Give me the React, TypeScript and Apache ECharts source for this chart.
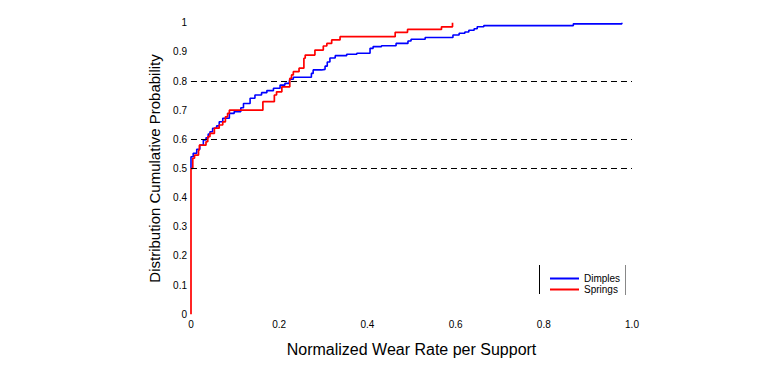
import React, { useEffect, useRef } from "react";
import * as echarts from "echarts";

const dimplesX = [0, 0, 0.005, 0.013, 0.02, 0.028, 0.034, 0.039, 0.043, 0.049, 0.058, 0.064, 0.072, 0.087, 0.098, 0.113, 0.119, 0.134, 0.145, 0.16, 0.172, 0.187, 0.202, 0.213, 0.223, 0.224, 0.232, 0.273, 0.277, 0.296, 0.304, 0.309, 0.315, 0.327, 0.353, 0.376, 0.406, 0.413, 0.432, 0.465, 0.492, 0.499, 0.531, 0.594, 0.608, 0.621, 0.63, 0.642, 0.649, 0.664, 0.867, 0.977, 0.977];
const dimplesP = [0.5, 0.54, 0.552, 0.566, 0.58, 0.598, 0.605, 0.618, 0.626, 0.638, 0.646, 0.66, 0.672, 0.689, 0.695, 0.708, 0.723, 0.741, 0.752, 0.76, 0.767, 0.775, 0.786, 0.792, 0.798, 0.806, 0.813, 0.826, 0.838, 0.84, 0.851, 0.865, 0.879, 0.887, 0.892, 0.895, 0.912, 0.918, 0.921, 0.929, 0.937, 0.943, 0.949, 0.958, 0.964, 0.968, 0.974, 0.979, 0.986, 0.99, 0.996, 0.996, 1.0];

const springsX = [0, 0, 0.004, 0.004, 0.008, 0.017, 0.019, 0.034, 0.038, 0.043, 0.053, 0.064, 0.072, 0.078, 0.083, 0.087, 0.163, 0.189, 0.194, 0.206, 0.224, 0.228, 0.232, 0.245, 0.256, 0.259, 0.281, 0.3, 0.308, 0.319, 0.338, 0.463, 0.491, 0.568, 0.593, 0.593];
const springsP = [0, 0.5, 0.506, 0.535, 0.546, 0.563, 0.58, 0.592, 0.609, 0.62, 0.638, 0.649, 0.66, 0.677, 0.689, 0.7, 0.729, 0.752, 0.763, 0.78, 0.809, 0.821, 0.832, 0.844, 0.878, 0.889, 0.906, 0.92, 0.929, 0.941, 0.952, 0.967, 0.977, 0.986, 0.99, 1.0];

const refLevels = [0.5, 0.6, 0.8];

export default function App() {
  const ref = useRef<HTMLDivElement>(null);
  useEffect(() => {
    if (!ref.current) return;
    const chart = echarts.init(ref.current, null, { renderer: "svg" });
    const font = "Arial, 'Liberation Sans', sans-serif";
    chart.setOption({
      animation: false,
      backgroundColor: "#ffffff",
      textStyle: { fontFamily: font },
      grid: { left: 191, right: 137, top: 22.7, bottom: 50.8, containLabel: false },
      xAxis: {
        type: "value",
        min: 0,
        max: 1,
        interval: 0.2,
        name: "Normalized Wear Rate per Support",
        nameLocation: "middle",
        nameGap: 27,
        nameTextStyle: { fontSize: 16, color: "#000", fontFamily: font },
        axisLine: { show: false },
        axisTick: { show: false },
        splitLine: { show: false },
        axisLabel: {
          fontSize: 10,
          color: "#000",
          margin: 5,
          formatter: (v: number) => (v === 0 ? "0" : v.toFixed(1)),
        },
      },
      yAxis: {
        type: "value",
        min: 0,
        max: 1,
        interval: 0.1,
        name: "Distribution Cumulative Probability",
        nameLocation: "middle",
        nameRotate: 90,
        nameGap: 29,
        nameTextStyle: { fontSize: 15, color: "#000", fontFamily: font },
        axisLine: { show: false },
        axisTick: { show: false },
        splitLine: { show: false },
        axisLabel: {
          fontSize: 10,
          color: "#000",
          margin: 4,
          formatter: (v: number) => (v === 0 ? "0" : v === 1 ? "1" : v.toFixed(1)),
        },
      },
      legend: {
        orient: "vertical",
        left: 545,
        top: 268,
        itemWidth: 29,
        itemHeight: 2,
        itemGap: 0,
        textStyle: { fontSize: 10, color: "#000", lineHeight: 11, fontFamily: font },
        data: [
          { name: "Dimples", icon: "rect", itemStyle: { color: "#0000ff" } },
          { name: "Springs", icon: "rect", itemStyle: { color: "#ff0000" } },
        ],
      },
      graphic: [
        { type: "line", shape: { x1: 539.5, y1: 265, x2: 539.5, y2: 294 }, style: { stroke: "#000", lineWidth: 1 } },
        { type: "line", shape: { x1: 625.5, y1: 265, x2: 625.5, y2: 295 }, style: { stroke: "#888", lineWidth: 1 } },
      ],
      series: [
        {
          name: "Dimples",
          type: "line",
          step: "end",
          symbol: "none",
          z: 2,
          lineStyle: { color: "#0000ff", width: 1.6 },
          itemStyle: { color: "#0000ff" },
          data: dimplesX.map((x, i) => [x, dimplesP[i]]),
          markLine: {
            silent: true,
            symbol: "none",
            label: { show: false },
            lineStyle: { color: "#000", type: [6, 4], width: 1 },
            data: refLevels.map((l) => [{ coord: [0, l] }, { coord: [1, l] }]),
          },
        },
        {
          name: "Springs",
          type: "line",
          step: "end",
          symbol: "none",
          z: 3,
          lineStyle: { color: "#ff0000", width: 1.7 },
          itemStyle: { color: "#ff0000" },
          data: springsX.map((x, i) => [x, springsP[i]]),
        },
      ],
    });
    return () => chart.dispose();
  }, []);
  return (
    <div
      ref={ref}
      style={{ position: "fixed", left: 0, top: 0, width: 769, height: 365 }}
    />
  );
}
